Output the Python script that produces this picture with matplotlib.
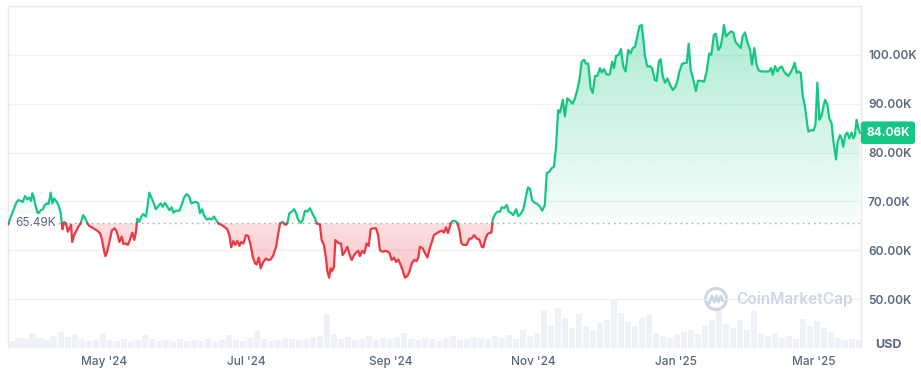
import numpy as np
import pandas as pd
import matplotlib.pyplot as plt
from matplotlib.path import Path
from matplotlib.patches import Ellipse
from matplotlib.lines import Line2D

plt.rcParams['font.family'] = ['Inter', 'DejaVu Sans']

# ---- data ----
start = pd.Timestamp('2024-03-21')

# day offset from start, BTC price in thousands USD
days = [0, 3.4, 4.4, 5.4, 6.3, 7.3, 8.3, 9.1, 9.9, 10.4,
        11.1, 11.7, 12.8, 14.0, 15.0, 15.5, 16.6, 17.4, 18.3, 19.0,
        19.8, 20.9, 21.7, 22.6, 23.3, 24.1, 24.8, 25.6, 26.3, 27.0,
        27.5, 28.3, 29.1, 30.1, 31.1, 32.2, 33.1, 34.0, 34.8, 36.5,
        38.0, 39.4, 40.3, 41.1, 41.7, 42.5, 43.4, 44.5, 45.7, 46.6,
        47.7, 48.7, 49.4, 50.4, 51.3, 52.2, 53.2, 54.1, 54.8, 55.4,
        56.2, 57.1, 57.9, 59.1, 60.0, 60.5, 62.2, 63.3, 64.4, 65.4,
        66.3, 67.2, 68.0, 69.1, 70.1, 70.8, 71.8, 73.4, 74.4, 75.4,
        76.5, 77.5, 78.5, 79.4, 80.5, 81.5, 82.2, 83.1, 83.9, 85.1,
        86.2, 87.2, 88.2, 89.1, 90.1, 91.5, 92.9, 93.9, 94.8, 95.6,
        96.5, 97.3, 98.2, 99.1, 99.9, 100.8, 101.9, 102.9, 103.9, 104.8,
        105.8, 106.5, 107.4, 108.2, 109.3, 110.5, 111.5, 112.5, 113.6, 114.8,
        115.6, 116.5, 117.6, 118.8, 119.6, 120.5, 121.5, 122.5, 123.3, 124.3,
        125.4, 126.2, 127.2, 128.2, 129.3, 130.3, 131.5, 132.2, 132.9, 133.6,
        134.3, 135.3, 136.2, 136.7, 137.5, 138.2, 138.9, 139.6, 140.2, 141.0,
        141.9, 142.6, 143.3, 144.3, 145.3, 146.2, 147.2, 148.2, 149.0, 150.0,
        150.7, 151.7, 152.6, 153.6, 154.5, 155.3, 156.4, 157.6, 158.5, 159.3,
        160.5, 161.9, 163.3, 164.3, 165.3, 166.2, 167.2, 167.9, 169.0, 170.0,
        171.0, 171.9, 172.9, 173.9, 175.0, 175.7, 176.4, 177.6, 178.6, 179.6,
        180.4, 181.5, 182.4, 183.6, 184.7, 185.9, 186.7, 187.6, 188.4, 189.6,
        190.4, 191.5, 192.4, 193.3, 194.1, 195.0, 196.4, 197.6, 198.6, 199.6,
        200.7, 201.8, 202.9, 203.6, 204.3, 205.3, 206.4, 207.0, 207.6, 208.6,
        209.6, 210.7, 211.4, 212.4, 213.6, 214.4, 215.3, 216.4, 217.6, 218.5,
        219.5, 220.7, 221.8, 222.7, 223.6, 224.4, 225.6, 226.7, 227.8, 228.8,
        229.9, 230.7, 231.8, 232.8, 233.8, 234.7, 235.6, 236.4, 237.6, 238.5,
        239.5, 240.7, 241.8, 242.8, 243.8, 244.7, 245.7, 246.7, 247.5, 248.5,
        249.5, 250.4, 251.4, 252.4, 253.5, 254.3, 255.3, 256.1, 257.1, 257.8,
        258.7, 259.5, 260.4, 261.5, 262.5, 263.5, 264.5, 265.6, 266.7, 267.5,
        268.5, 269.5, 270.4, 271.4, 272.1, 272.8, 273.8, 274.8, 275.8, 277.0,
        277.8, 278.7, 279.5, 280.4, 281.4, 282.4, 283.5, 284.7, 285.7, 286.6,
        287.5, 288.7, 289.6, 290.7, 291.5, 292.4, 293.5, 294.6, 295.5, 296.7,
        298.1, 299.2, 300.3, 301.2, 302.3, 303.2, 304.2, 305.2, 306.1, 306.6,
        307.5, 308.5, 309.5, 310.6, 311.5, 312.7, 313.8, 314.6, 315.6, 316.6,
        317.8, 318.6, 319.6, 320.6, 321.5, 322.8, 323.8, 324.9, 325.9, 326.8,
        327.5, 328.5, 329.5, 330.3, 331.4, 332.3, 333.2, 334.2, 335.0, 336.1,
        336.9, 337.8, 338.6, 339.5, 340.3, 341.3, 342.3, 342.8, 343.8, 344.9,
        345.8, 346.6, 347.5, 348.3, 349.2, 349.9, 350.9, 351.7, 352.7, 353.4,
        354.2, 354.6, 355.3, 356.3, 357.0, 357.7, 358.6, 359.4, 360.3, 361.3,
        362.0, 362.7, 363.4, 364.1, 364.8]

price_k = [65.3, 69.6, 70.3, 70.1, 69.9, 71.1, 70.4, 70.8, 70.1, 71.7,
           70.8, 69.3, 67.4, 68.2, 68.4, 69.1, 69.6, 69.5, 71.8, 69.6,
           70.6, 69.9, 69.1, 67.6, 64.3, 65.8, 65.5, 63.8, 64.5, 65.2,
           61.7, 63.1, 63.8, 64.8, 65.5, 67.2, 66.5, 65.5, 65.0, 64.5,
           64.1, 63.5, 62.1, 60.0, 58.8, 59.7, 61.7, 64.1, 64.5, 63.8,
           61.7, 62.8, 61.3, 61.4, 61.1, 62.1, 63.6, 62.1, 63.8, 66.5,
           65.8, 66.9, 67.4, 66.9, 69.9, 71.8, 69.9, 68.4, 69.1, 69.6,
           68.9, 69.7, 69.1, 68.2, 68.8, 67.7, 68.1, 68.1, 69.3, 70.8,
           71.5, 71.1, 69.6, 69.8, 69.9, 69.6, 67.6, 68.4, 67.2, 66.3,
           66.5, 66.3, 66.9, 66.2, 65.5, 65.2, 64.7, 64.3, 63.1, 60.6,
           61.9, 61.1, 61.9, 60.9, 61.7, 61.4, 63.1, 62.9, 61.1, 58.7,
           57.3, 57.1, 58.5, 56.3, 57.6, 58.3, 58.0, 58.1, 59.0, 60.7,
           63.1, 65.5, 65.8, 65.2, 65.5, 67.6, 67.9, 68.4, 67.7, 66.2,
           65.6, 66.2, 68.1, 67.9, 68.6, 67.6, 66.5, 65.5, 65.4, 65.2,
           62.1, 61.1, 58.3, 55.9, 54.4, 56.3, 55.8, 56.6, 62.1, 61.7,
           61.4, 61.4, 59.0, 59.7, 60.7, 59.2, 58.0, 59.0, 59.5, 59.9,
           58.8, 59.9, 59.4, 61.4, 60.9, 64.3, 64.5, 64.5, 63.1, 60.0,
           59.7, 59.9, 59.5, 58.0, 58.5, 57.6, 58.1, 57.3, 55.9, 54.4,
           54.7, 55.6, 57.3, 58.0, 57.8, 58.5, 60.7, 60.4, 59.4, 58.5,
           60.0, 61.7, 63.1, 63.5, 63.8, 64.0, 63.6, 64.7, 63.5, 65.5,
           66.0, 66.0, 65.6, 64.1, 61.5, 61.1, 61.1, 62.4, 62.4, 63.1,
           62.4, 62.2, 60.7, 60.6, 62.1, 63.3, 63.6, 63.6, 66.3, 67.4,
           67.9, 67.9, 68.8, 68.6, 69.3, 67.9, 67.7, 67.2, 68.4, 67.0,
           67.4, 68.4, 71.0, 72.9, 72.5, 70.3, 69.7, 69.5, 68.9, 68.1,
           69.3, 75.8, 76.1, 76.8, 77.1, 81.2, 88.7, 88.2, 90.8, 87.4,
           91.1, 90.6, 90.0, 91.1, 92.8, 94.9, 98.6, 99.0, 98.2, 98.2,
           93.2, 92.2, 95.7, 95.7, 97.3, 96.4, 97.1, 96.1, 95.9, 96.1,
           98.6, 97.3, 99.8, 100.0, 101.2, 97.6, 96.6, 101.0, 100.3, 101.4,
           101.6, 103.8, 105.9, 106.1, 103.1, 99.7, 97.6, 97.7, 97.3, 94.9,
           94.7, 98.6, 99.1, 95.6, 94.3, 95.2, 93.9, 92.8, 93.4, 94.5,
           96.6, 98.2, 98.3, 98.4, 102.3, 96.9, 94.9, 92.6, 94.7, 94.7,
           94.5, 96.6, 100.3, 100.0, 104.1, 104.3, 101.0, 101.7, 104.1, 106.1,
           103.8, 104.3, 104.8, 104.6, 102.7, 102.0, 101.4, 103.8, 104.6, 102.7,
           101.0, 98.0, 101.4, 98.0, 96.8, 96.6, 96.6, 96.6, 96.6, 97.3,
           95.9, 97.7, 96.6, 97.3, 97.6, 96.6, 96.1, 95.7, 96.3, 97.3,
           98.4, 96.3, 96.6, 96.3, 91.8, 89.4, 85.7, 84.3, 84.6, 84.5,
           85.7, 94.3, 86.7, 87.4, 89.4, 90.8, 89.8, 87.0, 86.0, 82.6,
           79.9, 78.6, 82.2, 83.6, 82.9, 81.2, 83.6, 84.1, 82.9, 84.1,
           82.9, 83.6, 86.7, 85.0, 84.06]

# volume, 3-day buckets, billions USD
vol_b = [21, 30, 27, 45, 30, 24, 36, 48, 33, 42, 27, 21, 24,
         45, 24, 21, 27, 18, 24, 39, 27, 21, 24, 18, 27, 21, 24,
         21, 27, 18, 24, 39, 24, 21, 30, 51, 27, 21, 24, 30, 27, 24,
         27, 33, 36, 102, 42, 27, 33, 24, 27, 36, 24, 30, 27, 33, 45,
         27, 24, 30, 27, 21, 30, 36, 24, 27, 33, 30, 27,
         36, 30, 39, 27, 54, 36, 45,
         114, 66, 120, 90, 60, 102, 66, 54, 75, 84, 144, 105, 78, 66, 90, 99,
         45, 36, 30, 42, 48, 54, 42, 66, 84, 114, 72, 60, 84, 54, 111,
         42, 36, 45, 30, 36, 27, 87, 66, 81, 60, 48, 30, 24, 27, 24]

base_k = 65.49
last_k = 84.06
y_ticks = [50, 60, 70, 80, 90, 100]
month_starts = ['2024-05-01', '2024-07-01', '2024-09-01', '2024-11-01', '2025-01-01', '2025-03-01']
month_labels = ["May '24", "Jul '24", "Sep '24", "Nov '24", "Jan '25", "Mar '25"]

green = '#16c784'
red = '#ea3943'
grey_txt = '#58667e'
grid_c = '#eff2f5'

# ---- figure ----
fig = plt.figure(figsize=(9.21, 3.70), dpi=100)
ax = fig.add_axes([8 / 921, 1 - 348 / 370, 853 / 921, 342 / 370])
ax.set_xlim(0, 365.3)
ax.set_ylim(40, 110)

# volume bars on their own scale
axv = ax.twinx()
axv.set_ylim(0, 1026)
axv.bar(np.arange(len(vol_b)) * 3 + 1.5, vol_b, width=2.6, color='#eef1f6', zorder=0)
axv.axis('off')
ax.set_zorder(axv.get_zorder() + 1)
ax.patch.set_visible(False)

# split the line at the baseline crossings
x = np.array(days, dtype=float)
y = np.array(price_k, dtype=float)
xs, ys = [x[0]], [y[0]]
for i in range(1, len(x)):
    if (y[i - 1] - base_k) * (y[i] - base_k) < 0:
        t = (base_k - y[i - 1]) / (y[i] - y[i - 1])
        xs.append(x[i - 1] + t * (x[i] - x[i - 1]))
        ys.append(base_k)
    xs.append(x[i])
    ys.append(y[i])
xs = np.array(xs)
ys = np.array(ys)


def gradient_fill(mask, color, a_top, a_bot, y0, y1):
    poly = ax.fill_between(xs, ys, base_k, where=mask, color='none', lw=0)
    paths = poly.get_paths()
    if not paths:
        return
    clip = Path.make_compound_path(*paths)
    rgb = plt.matplotlib.colors.to_rgb(color)
    n = 256
    img = np.zeros((n, 1, 4))
    img[:, 0, :3] = rgb
    img[:, 0, 3] = np.linspace(a_bot, a_top, n)
    im = ax.imshow(img, extent=[0, 365.3, y0, y1], origin='lower',
                   aspect='auto', zorder=1, interpolation='bilinear')
    im.set_clip_path(clip, transform=ax.transData)


gradient_fill(ys >= base_k, green, 0.36, 0.03, base_k, 107)
gradient_fill(ys <= base_k, red, 0.16, 0.30, 53, base_k)
ax.set_xlim(0, 365.3)
ax.set_ylim(40, 110)

g = np.where(ys >= base_k, ys, np.nan)
r = np.where(ys <= base_k, ys, np.nan)
ax.plot(xs, g, color=green, lw=1.6, zorder=3, solid_joinstyle='round')
ax.plot(xs, r, color=red, lw=1.6, zorder=3, solid_joinstyle='round')

# baseline
ax.axhline(base_k, color='#9aa3b5', lw=1, ls=(0, (1, 3)), zorder=2)
ax.text(3, base_k, '65.49K', color=grey_txt, fontsize=8.5, va='center', ha='left', zorder=4,
        bbox=dict(boxstyle='round,pad=0.3,rounding_size=0.5', fc='white', ec='none', alpha=0.85))

# grid and frame
for v in y_ticks:
    ax.axhline(v, color=grid_c, lw=1, zorder=0.5)
for s in ['top', 'left', 'right']:
    ax.spines[s].set_color('#e6e9ee')
    ax.spines[s].set_linewidth(1)
ax.spines['bottom'].set_visible(False)

ax.yaxis.tick_right()
ax.set_yticks(y_ticks)
ax.set_yticklabels([f'{v:.2f}K' for v in y_ticks])
ax.tick_params(axis='y', length=0, pad=5, labelsize=8.5, labelcolor=grey_txt)
for lab in ax.get_yticklabels():
    lab.set_fontweight('semibold')

tick_pos = [(pd.Timestamp(m) - start).days for m in month_starts]
ax.set_xticks(tick_pos)
ax.set_xticklabels(month_labels)
ax.tick_params(axis='x', length=0, pad=6, labelsize=8.5, labelcolor=grey_txt)
for lab in ax.get_xticklabels():
    lab.set_fontweight('medium')

# current price badge
ax.text(1.006, last_k, f'{last_k:.2f}K', transform=ax.get_yaxis_transform(),
        color='white', fontsize=8.5, fontweight='bold', va='center', ha='left', zorder=5,
        bbox=dict(boxstyle='round,pad=0.45,rounding_size=0.25', fc=green, ec='none'))

fig.text(875 / 921, 1 - 345 / 370, 'USD', color=grey_txt, fontsize=9, fontweight='bold',
         va='center', ha='left')

# watermark
wm = '#cfd6e3'
fig.add_artist(Ellipse((716 / 921, 1 - 299 / 370), 21 / 921, 21 / 370, fill=False,
                       ec=wm, lw=2.2, transform=fig.transFigure))
wx = np.array([709, 712, 714.5, 716.5, 718.5, 721, 723]) / 921
wy = 1 - np.array([304, 296, 302, 296, 302, 296, 301]) / 370
fig.add_artist(Line2D(wx, wy, color=wm, lw=2, transform=fig.transFigure,
                      solid_joinstyle='round', solid_capstyle='round'))
fig.text(736 / 921, 1 - 299 / 370, 'CoinMarketCap', color=wm, fontsize=11.2,
         fontweight='semibold', va='center', ha='left')

fig.savefig('out.png', dpi=100)
